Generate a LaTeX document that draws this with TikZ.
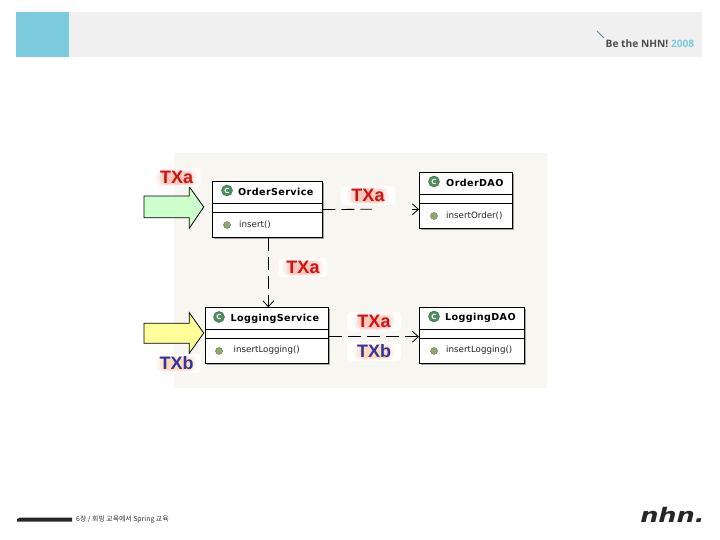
\documentclass[tikz,border=0pt]{standalone}
\usepackage{fontspec}
\setmainfont{Liberation Sans}
\newfontfamily\cjkf{Noto Sans CJK KR}
\newfontfamily\umlf[LetterSpace=4]{DejaVu Sans}
\newfontfamily\dejaf{DejaVu Sans}
\newfontfamily\headf{Open Sans}
\usetikzlibrary{arrows.meta,shadows,calc}
\definecolor{panelbg}{HTML}{F8F6F0}
\definecolor{headbg}{HTML}{F0F0F0}
\definecolor{headcy}{HTML}{7CCBDD}
\definecolor{txred}{HTML}{CC1414}
\definecolor{txblue}{HTML}{33339A}
\definecolor{halored}{HTML}{F47050}
\definecolor{haloorg}{HTML}{F8A060}
\definecolor{arrgreen}{HTML}{CCFFCC}
\definecolor{arryellow}{HTML}{FFFF99}
\definecolor{icong}{HTML}{4F8F5F}
\definecolor{methg}{HTML}{8FA870}
\tikzset{
  umlbox/.style={draw=black,line width=0.8pt,fill=white,inner sep=0pt,
    drop shadow={shadow xshift=1.5pt,shadow yshift=-1.5pt,fill=gray,opacity=.7}},
  divider/.style={draw=black,line width=0.8pt},
  classicon/.style={circle,fill=icong,draw=icong!70!black,line width=.4pt,minimum size=11pt,inner sep=0pt,
    text=white,font=\dejaf\bfseries\fontsize{7}{7}\selectfont},
  methicon/.style={circle,fill=methg,draw=methg!70!black,line width=.4pt,minimum size=7pt,inner sep=0pt},
  classname/.style={anchor=west,inner sep=0pt,font=\umlf\bfseries\fontsize{9.6}{10}\selectfont},
  methname/.style={anchor=west,inner sep=0pt,font=\dejaf\fontsize{8.7}{10}\selectfont,text=black!85},
  txa/.style={font=\bfseries\fontsize{18}{18}\selectfont,text=txred,inner sep=0pt},
  txb/.style={font=\bfseries\fontsize{18}{18}\selectfont,text=txblue,inner sep=0pt},
  depline/.style={draw=black,line width=0.8pt,dash pattern=on 13pt off 6pt},
  dephead/.style={draw=black,line width=0.8pt,-{Straight Barb[length=6pt,width=11pt,line width=0.8pt]}},
  bigarrow/.style={draw=black,line width=0.8pt,line join=miter},
}
\newcommand{\uml}[7]{%
  \node[umlbox,minimum width=#3pt-#2pt,minimum height=#5pt-#4pt] (#1) at ({(#2+#3)/2},{(#4+#5)/2}) {};
  \draw[divider] (#2,#6) -- (#3,#6);
  \draw[divider] (#2,#7) -- (#3,#7);
}
% name, cx, cy, halfwidth, style, halo colour, text
\newcommand{\txlabel}[7]{%
  \fill[white,rounded corners=4pt] (#2-#4,#3-9.5) rectangle (#2+#4,#3+9.5);
  \fill[#6,opacity=.10,rounded corners=5pt] (#2-20,#3-8) rectangle (#2+20,#3+8.5);
  \fill[#6,opacity=.14,rounded corners=5pt] (#2-17,#3-6.5) rectangle (#2+17,#3+7.5);
  \fill[#6,opacity=.20,rounded corners=4pt] (#2-14,#3-5) rectangle (#2+14,#3+6.5);
  \node[#5] (#1) at (#2,#3) {#7};
}
\begin{document}
\begin{tikzpicture}[x=1pt,y=-1pt]
\useasboundingbox (0,0) rectangle (720,540);
\fill[white] (0,0) rectangle (720,540);
% header
\fill[headbg] (16,12) rectangle (702,57);
\fill[headcy] (16,12) rectangle (69,57);
\draw[headcy!70!black,line width=.8pt] (597,31) -- (604,38);
\node[anchor=west,inner sep=0pt,font=\headf\bfseries\fontsize{10.2}{11}\selectfont,text=black!70] (brand) at (605.5,44)
  {Be the NHN! \textcolor{headcy}{2008}};
% panel
\fill[panelbg] (174.3,153) rectangle (546.7,388);
% boxes and connectors
\uml{os}{212.3}{322}{181.7}{237.3}{203.3}{212.3}
\uml{od}{419.3}{512.3}{172.3}{228.7}{194.3}{203.3}
\uml{ls}{205}{328.7}{307.7}{363.3}{329.3}{338.3}
\uml{ld}{419.3}{524.3}{307.7}{363.3}{329.3}{338.3}
\coordinate (gapA) at (372,209.3);
\coordinate (gapB) at (412,209.3);
\coordinate (odin) at ($(od.west)+(0,8.8)$);
\draw[depline] (os.east) -- (gapA);
\draw[dephead] (gapB) -- (odin);
\coordinate (ostop) at ($(os.south)+(1.2,0)$);
\coordinate (lsin) at ($(ls.north)+(1.5,0)$);
\draw[depline] (ostop) -- ($(lsin)+(0,-6)$);
\draw[dephead] ($(lsin)+(0,-6)$) -- (lsin);
\coordinate (lsout) at ($(ls.east)+(0,1.2)$);
\coordinate (ldin) at ($(ld.west)+(0,1.2)$);
\draw[depline] (lsout) -- ($(ldin)+(-6,0)$);
\draw[dephead] ($(ldin)+(-6,0)$) -- (ldin);
% class contents
\node[classicon] (ic1) at (227,190.5) {C};
\node[classname] (n1) at (238,192) {OrderService};
\node[methicon] (m1) at (227,225) {};
\node[methname] (t1) at (239,224.5) {insert()};
\node[classicon] (ic2) at (434,181.5) {C};
\node[classname] (n2) at (446,183) {OrderDAO};
\node[methicon] (m2) at (434,216) {};
\node[methname] (t2) at (446,215.5) {insertOrder()};
\node[classicon] (ic3) at (219,317) {C};
\node[classname] (n3) at (230.5,318.5) {LoggingService};
\node[methicon] (m3) at (219,351) {};
\node[methname] (t3) at (233.5,350.5) {insertLogging()};
\node[classicon] (ic4) at (434,316.5) {C};
\node[classname] (n4) at (445,318) {LoggingDAO};
\node[methicon] (m4) at (434,351) {};
\node[methname] (t4) at (446,350.5) {insertLogging()};
% block arrows
\draw[bigarrow,fill=arrgreen] (144,196) -- (189.3,196) -- (189.3,186.7) -- (203.7,207) -- (189.3,228.3) -- (189.3,217.7) -- (144,217.7) -- cycle;
\draw[bigarrow,fill=arryellow] (144,323.3) -- (189.3,323.3) -- (189.3,312.7) -- (203.7,333) -- (189.3,353.3) -- (189.3,343.3) -- (144,343.3) -- cycle;
% labels
\txlabel{la}{176.7}{177.5}{24}{txa}{halored}{TXa}
\txlabel{lb}{368}{195.5}{27}{txa}{halored}{TXa}
\txlabel{lc}{303}{267.5}{24}{txa}{halored}{TXa}
\txlabel{ld1}{374}{321.5}{27}{txa}{halored}{TXa}
\txlabel{ld2}{374}{351.5}{27}{txb}{haloorg}{TXb}
\txlabel{le}{176.7}{363.5}{24}{txb}{haloorg}{TXb}
% footer
\fill[black!85] (17,519) -- (20,517.5) -- (72,517.5) -- (72,521.5) -- (17,521.5) -- cycle;
\node[anchor=west,inner sep=0pt,font=\cjkf\fontsize{6.9}{8}\selectfont,text=black!80] (foot) at (76,519.5) {6장 / 회빙 교육에서 Spring 교육};
\node[anchor=west,inner sep=0pt,font=\dejaf\bfseries\itshape\fontsize{20}{20}\selectfont,text=black!85,xscale=1.28] (logo) at (640,514.5) {nhn.};
\end{tikzpicture}
\end{document}
